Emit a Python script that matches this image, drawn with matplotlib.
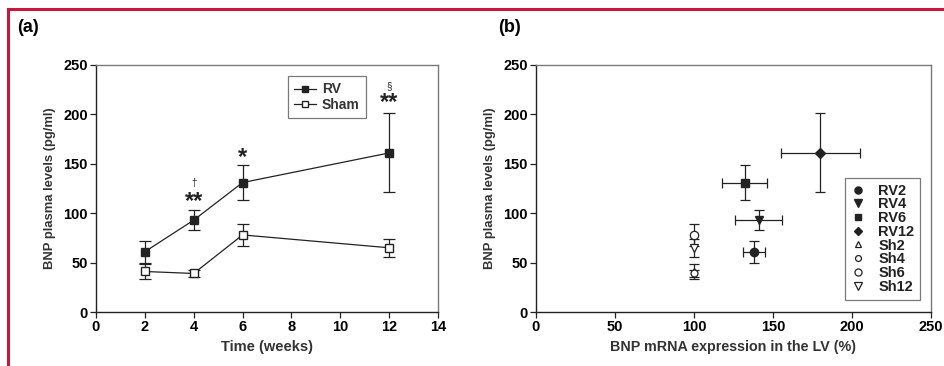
import numpy as np
import matplotlib
matplotlib.use("Agg")
import matplotlib.pyplot as plt
from matplotlib.lines import Line2D

plt.rcParams['font.family'] = ['Liberation Sans', 'DejaVu Sans']

# (a) BNP plasma levels over time
weeks = [2, 4, 6, 12]
rv_bnp = [61, 93, 131, 161]
rv_bnp_err = [11, 10, 18, 40]
sham_bnp = [41, 39, 78, 65]
sham_bnp_err = [8, 4, 11, 9]

# (b) BNP plasma vs BNP mRNA in LV
rv_labels = ['RV2', 'RV4', 'RV6', 'RV12']
rv_mrna = [138, 141, 132, 180]
rv_mrna_err = [7, 15, 14, 25]
sham_labels = ['Sh2', 'Sh4', 'Sh6', 'Sh12']
sham_mrna = [100, 100, 100, 100]

red = '#c8163c'
dark = '#222222'
grey = '#7a7a7a'

fig = plt.figure(figsize=(9.44, 3.66), dpi=100)

# red frame lines
fig.add_artist(Line2D([8 / 944, 1], [1 - 9 / 366, 1 - 9 / 366], color=red, lw=2.2))
fig.add_artist(Line2D([8 / 944, 8 / 944], [0, 1 - 9 / 366], color=red, lw=2.2))

fig.text(17 / 944, 1 - 28 / 366, '(a)', fontsize=13, fontweight='bold', va='center')
fig.text(498 / 944, 1 - 28 / 366, '(b)', fontsize=13, fontweight='bold', va='center')

ax1 = fig.add_axes([96 / 944, 1 - 312 / 366, 342 / 944, 247 / 366])
ax2 = fig.add_axes([536 / 944, 1 - 312 / 366, 395 / 944, 247 / 366])


def style(ax):
    for s in ['top', 'right']:
        ax.spines[s].set_color(grey)
    for s in ['left', 'bottom']:
        ax.spines[s].set_color(dark)
    for s in ax.spines.values():
        s.set_linewidth(1.0)
    ax.tick_params(direction='out', length=4, width=0.9, color=dark,
                   labelsize=10.5, pad=2, top=False, right=False)
    for lab in ax.get_xticklabels() + ax.get_yticklabels():
        lab.set_fontweight('bold')
    ax.set_ylim(0, 250)
    ax.set_yticks([0, 50, 100, 150, 200, 250])
    ax.set_ylabel('BNP plasma levels (pg/ml)', fontsize=9.4, fontweight='bold',
                  color='#333333', labelpad=5)


# panel (a)
ax1.errorbar(weeks, rv_bnp, yerr=rv_bnp_err, fmt='-s', color=dark, ms=5.5,
             mfc=dark, mec=dark, lw=0.9, elinewidth=0.9, capsize=4, capthick=0.9)
ax1.errorbar(weeks, sham_bnp, yerr=sham_bnp_err, fmt='-s', color=dark, ms=5.5,
             mfc='white', mec=dark, lw=0.9, elinewidth=0.9, capsize=4, capthick=0.9)
ax1.set_xlim(0, 14)
ax1.set_xticks(range(0, 15, 2))
style(ax1)
ax1.set_xlabel('Time (weeks)', fontsize=10.5, fontweight='bold', color='#333333', labelpad=4)

h1 = Line2D([], [], color=dark, lw=0.9, marker='s', ms=4.5, mfc=dark, mec=dark)
h2 = Line2D([], [], color=dark, lw=0.9, marker='s', ms=4.5, mfc='white', mec=dark)
leg = ax1.legend([h1, h2], ['RV', 'Sham'], loc='upper left',
                 bbox_to_anchor=(0.561, 0.955), borderaxespad=0, fancybox=False,
                 edgecolor=grey, framealpha=1, fontsize=10, handlelength=1.6,
                 handletextpad=0.4, labelspacing=0.1, borderpad=0.45)
leg.get_frame().set_linewidth(0.9)
for t in leg.get_texts():
    t.set_fontweight('bold')
    t.set_color('#333333')

ax1.text(4, 112, '**', fontsize=17, fontweight='bold', ha='center', va='center', color=dark)
ax1.text(4, 131, '†', fontsize=7, ha='center', va='center', color=dark)
ax1.text(6, 156, '*', fontsize=17, fontweight='bold', ha='center', va='center', color=dark)
ax1.text(12, 212, '**', fontsize=17, fontweight='bold', ha='center', va='center', color=dark)
ax1.text(12, 229, '§', fontsize=7, ha='center', va='center', color=dark)

# panel (b)
rv_markers = ['o', 'v', 's', 'D']
rv_sizes = [6, 6, 5.5, 5]
sham_markers = ['^', 'o', 'o', 'v']
sham_sizes = [5, 5, 6, 6]
handles = []
for i in range(4):
    ax2.errorbar(rv_mrna[i], rv_bnp[i], xerr=rv_mrna_err[i], yerr=rv_bnp_err[i],
                 fmt='none', ecolor=dark, elinewidth=0.9, capsize=3.5, capthick=0.9)
    h, = ax2.plot(rv_mrna[i], rv_bnp[i], linestyle='none', marker=rv_markers[i],
                  ms=rv_sizes[i], color=dark, mfc=dark, mec=dark, zorder=3)
    handles.append(h)
for i in range(4):
    ax2.errorbar(sham_mrna[i], sham_bnp[i], yerr=sham_bnp_err[i],
                 fmt='none', ecolor=dark, elinewidth=0.9, capsize=3.5, capthick=0.9)
    h, = ax2.plot(sham_mrna[i], sham_bnp[i], linestyle='none', marker=sham_markers[i],
                  ms=sham_sizes[i], color=dark, mfc='white', mec=dark, mew=0.9, zorder=3)
    handles.append(h)
ax2.set_xlim(0, 250)
ax2.set_xticks([0, 50, 100, 150, 200, 250])
style(ax2)
ax2.set_xlabel('BNP mRNA expression in the LV (%)', fontsize=10.3, fontweight='bold',
               color='#333333', labelpad=4)

leg2 = ax2.legend(handles, rv_labels + sham_labels, loc='upper left',
                  bbox_to_anchor=(0.782, 0.543), borderaxespad=0, fancybox=False,
                  edgecolor=grey, framealpha=1, fontsize=10.5, handlelength=1.0,
                  handletextpad=0.9, labelspacing=-0.02, borderpad=0.4, markerscale=0.85)
leg2.get_frame().set_linewidth(0.9)
for t in leg2.get_texts():
    t.set_fontweight('bold')
    t.set_color(dark)

fig.savefig('out.png', dpi=100)
